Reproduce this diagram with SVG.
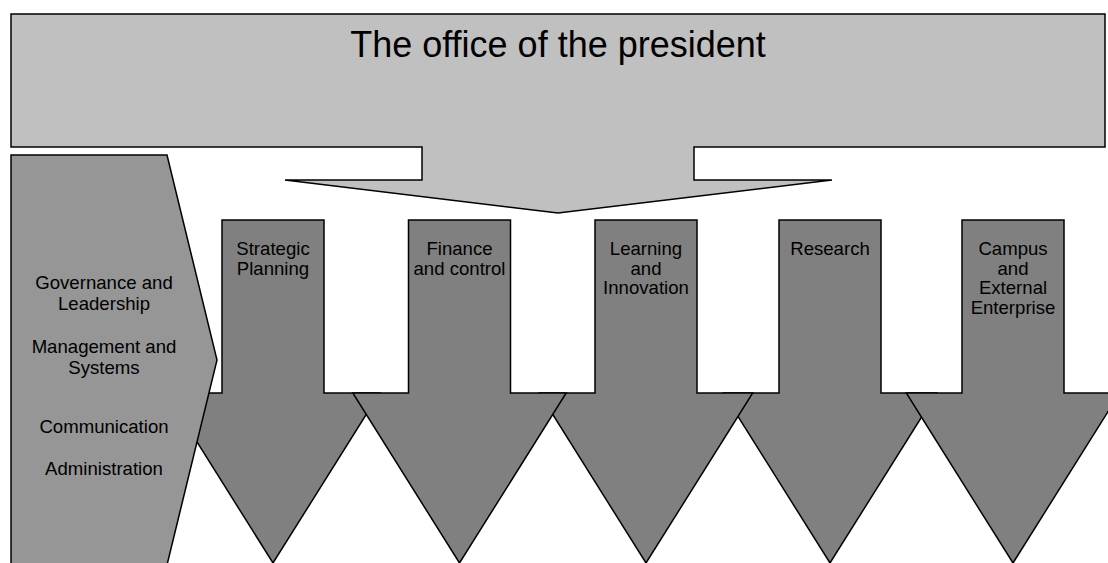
<svg xmlns="http://www.w3.org/2000/svg" width="1108" height="563" viewBox="0 0 1108 563">
<style>
.sh{stroke:#000;stroke-width:1.5;stroke-linejoin:miter}
.top{fill:#c0c0c0}
.side{fill:#969696}
.arr{fill:#808080}
text{font-family:"Liberation Sans",Arial,sans-serif;fill:#000;text-anchor:middle}
.lbl{font-size:18.6px}
.ttl{font-size:36px}
</style>
<rect width="1108" height="563" fill="#fff"/>
<g id="president">
<polygon class="sh top" points="11,14 1105,14 1105,147 694,147 694,180 832,180 558,213 285,180 422,180 422,147 11,147"/>
<text class="ttl" x="558" y="57">The office of the president</text>
</g>
<g id="connectors"></g>
<g id="arrow1">
<polygon class="sh arr" points="222,220 324,220 324,393 379.7,393 273,563 166.3,393 222,393"/>
<text class="lbl" x="273" y="255">Strategic</text>
<text class="lbl" x="273" y="274.5">Planning</text>
</g>
<g id="arrow4">
<polygon class="sh arr" points="779,220 881,220 881,393 936.7,393 830,563 723.3,393 779,393"/>
<text class="lbl" x="830" y="255">Research</text>
</g>
<g id="arrow3">
<polygon class="sh arr" points="595,220 697,220 697,393 752.7,393 646,563 539.3,393 595,393"/>
<text class="lbl" x="646" y="255">Learning</text>
<text class="lbl" x="646" y="274.5">and</text>
<text class="lbl" x="646" y="294">Innovation</text>
</g>
<g id="arrow2">
<polygon class="sh arr" points="408.5,220 510.5,220 510.5,393 566.2,393 459.5,563 352.8,393 408.5,393"/>
<text class="lbl" x="459.5" y="255">Finance</text>
<text class="lbl" x="459.5" y="274.5">and control</text>
</g>
<g id="arrow5">
<polygon class="sh arr" points="962,220 1064,220 1064,393 1119.7,393 1013,563 906.3,393 962,393"/>
<text class="lbl" x="1013" y="255">Campus</text>
<text class="lbl" x="1013" y="274.5">and</text>
<text class="lbl" x="1013" y="294">External</text>
<text class="lbl" x="1013" y="313.5">Enterprise</text>
</g>
<g id="functions">
<polygon class="sh side" points="11,155 167,155 217,360 167,565 11,565"/>
<text class="lbl" x="104" y="289">Governance and</text>
<text class="lbl" x="104" y="309.5">Leadership</text>
<text class="lbl" x="104" y="353">Management and</text>
<text class="lbl" x="104" y="373.5">Systems</text>
<text class="lbl" x="104" y="433">Communication</text>
<text class="lbl" x="104" y="475">Administration</text>
</g>
</svg>
